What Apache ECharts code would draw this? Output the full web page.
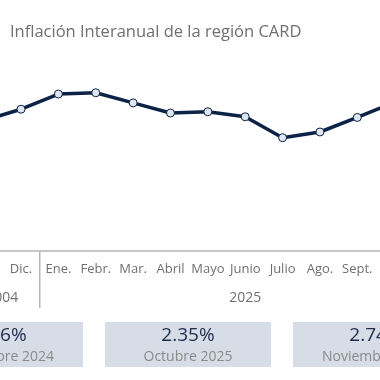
<!DOCTYPE html>
<html><head><meta charset="utf-8">
<script src="https://cdn.jsdelivr.net/npm/echarts@6/dist/echarts.min.js"></script>
<style>html,body{margin:0;padding:0;background:#fff}#c{width:380px;height:380px}</style>
</head><body><div id="c"></div>
<script>
const titleText = "Inflación Interanual de la región CARD";
const months = ["Nov.","Dic.","Ene.","Febr.","Mar.","Abril","Mayo","Junio","Julio","Ago.","Sept.","Oct.","Nov."];
const inflation = [2.06,2.24,2.48,2.50,2.34,2.18,2.20,2.12,1.79,1.88,2.11,2.35,2.74];
const yearLabels = ["2004","2025"];
const yearFirst = [0,2];
const yearLast = [1,12];
const boxValues = ["2.06%","2.35%","2.74%"];
const boxLabels = ["Noviembre 2024","Octubre 2025","Noviembre 2025"];

const FONT = "'Open Sans'";
const NAVY = "#0c2246";
const chart = echarts.init(document.getElementById('c'), null, {renderer:'canvas'});
chart.setOption({
  animation:false,
  backgroundColor:'#ffffff',
  title:{text:titleText,left:10,top:24,padding:0,textStyle:{fontFamily:FONT,fontSize:16.5,fontWeight:'normal',color:'#6f6f6f'}},
  grid:{left:-35,right:-70.7,top:61.1,bottom:129,containLabel:false,outerBoundsMode:'none'},
  xAxis:{type:'category',data:months,boundaryGap:true,
    axisLine:{show:true,lineStyle:{color:'#b5b5b5',width:1.5}},
    axisTick:{show:false},
    axisLabel:{color:'#6f6f6f',fontFamily:FONT,fontSize:13,margin:12,interval:0}},
  yAxis:{type:'value',min:0,max:3,show:false,splitLine:{show:false}},
  series:[{type:'line',data:inflation,symbol:'circle',symbolSize:8,showAllSymbol:true,
    lineStyle:{color:NAVY,width:3.5},
    itemStyle:{color:'#dfe6f0',borderColor:NAVY,borderWidth:1}}]
});

const px = i => chart.convertToPixel({xAxisIndex:0}, i);
const axisY = chart.convertToPixel({yAxisIndex:0}, 0);
const g = [];
for (let k=0;k<yearLabels.length;k++){
  const x0 = px(yearFirst[k]) - (px(1)-px(0))/2;
  const x1 = px(yearLast[k]) + (px(1)-px(0))/2;
  g.push({type:'text',style:{text:yearLabels[k],x:(x0+x1)/2,y:298,align:'center',verticalAlign:'middle',fill:'#6f6f6f',font:'14px '+FONT}});
  if (k>0) g.push({type:'line',shape:{x1:x0,y1:axisY,x2:x0,y2:308},style:{stroke:'#b5b5b5',lineWidth:1.5}});
}
for (let k=0;k<boxValues.length;k++){
  const bx = -83 + k*188;
  g.push({type:'rect',shape:{x:bx,y:322,width:166,height:45},style:{fill:'#d6dde6'}});
  g.push({type:'text',style:{text:boxValues[k],x:bx+83,y:336,align:'center',verticalAlign:'middle',fill:'#1d2b4c',font:'19px '+FONT}});
  g.push({type:'text',style:{text:boxLabels[k],x:bx+83,y:357,align:'center',verticalAlign:'middle',fill:'#8a8a8a',font:'14px '+FONT}});
}
chart.setOption({graphic:g});
</script>
</body></html>
